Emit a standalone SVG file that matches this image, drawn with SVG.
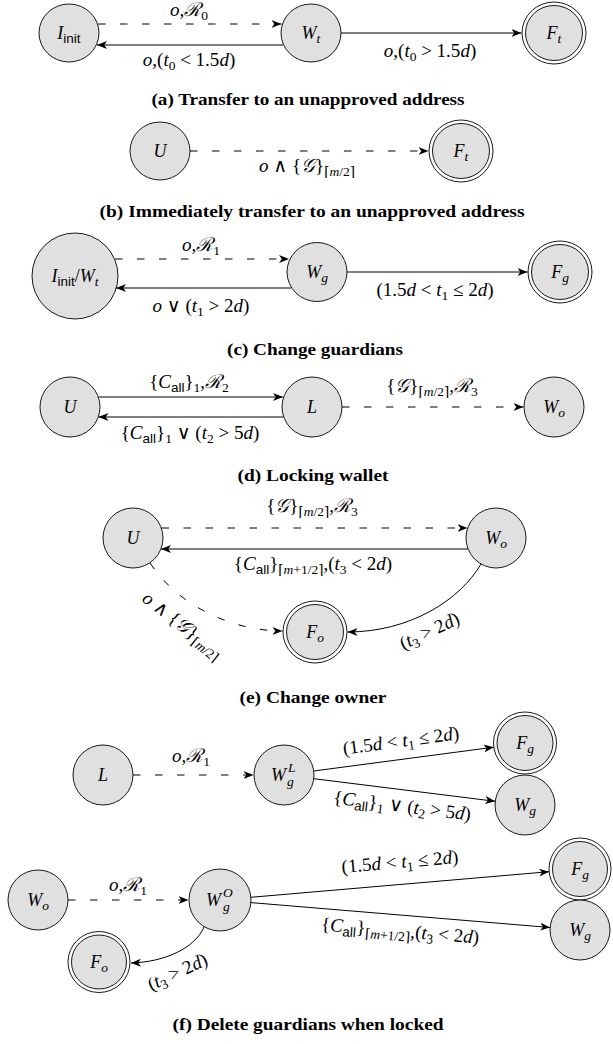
<svg xmlns="http://www.w3.org/2000/svg" width="613" height="1044" viewBox="0 0 613 1044">
<defs>
<style>
.nd{fill:#e0e0e0;stroke:#000;stroke-width:0.9}
.ao{fill:#fff;stroke:#000;stroke-width:0.9}
.e{fill:none;stroke:#000;stroke-width:1;marker-end:url(#ah)}
.d{stroke-dasharray:7.5 14.5}
.m{font-family:"Liberation Serif","DejaVu Serif",serif;font-size:18px;font-style:italic;fill:#000}
.l{font-size:19px}
.c{text-anchor:middle}
.u{font-style:normal}
.s{font-size:13.5px}
.sf{font-family:"Liberation Sans","DejaVu Sans",sans-serif;font-style:normal}
.cap{font-family:"Liberation Serif","DejaVu Serif",serif;font-weight:bold;font-size:16px;text-anchor:middle;fill:#000}
</style>
<marker id="ah" viewBox="0 0 10 8" refX="10" refY="4" markerWidth="10" markerHeight="8" markerUnits="userSpaceOnUse" orient="auto">
<path d="M0,0 L10,4 L0,8 L2.8,4 Z" fill="#000"/>
</marker>
</defs>
<rect width="613" height="1044" fill="#fff"/>

<!-- (a) -->
<g id="a-Iinit"><ellipse class="nd" cx="69" cy="33" rx="30" ry="29"/><text class="m c" x="69" y="39">I<tspan class="sf s" dy="4">init</tspan></text></g>
<g id="a-Wt"><ellipse class="nd" cx="311" cy="33" rx="30" ry="29"/><text class="m c" x="311" y="39">W<tspan class="s" dy="4">t</tspan></text></g>
<g id="a-Ft"><ellipse class="ao" cx="554" cy="33" rx="32" ry="31"/><ellipse class="nd" cx="554" cy="33" rx="28.5" ry="27.5"/><text class="m c" x="554" y="39">F<tspan class="s" dy="4">t</tspan></text></g>

<!-- (b) -->
<g id="b-U"><ellipse class="nd" cx="160" cy="151" rx="30" ry="29"/><text class="m c" x="160" y="157">U</text></g>
<g id="b-Ft"><ellipse class="ao" cx="461" cy="151" rx="32" ry="31"/><ellipse class="nd" cx="461" cy="151" rx="28.5" ry="27.5"/><text class="m c" x="461" y="157">F<tspan class="s" dy="4">t</tspan></text></g>

<!-- (c) -->
<g id="c-IW"><circle class="nd" cx="75" cy="276" r="43"/><text class="m c" x="75" y="282">I<tspan class="sf s" dy="4">init</tspan><tspan class="u" dy="-4">/</tspan>W<tspan class="s" dy="4">t</tspan></text></g>
<g id="c-Wg"><ellipse class="nd" cx="317" cy="272" rx="30" ry="29.5"/><text class="m c" x="317" y="278">W<tspan class="s" dy="4">g</tspan></text></g>
<g id="c-Fg"><ellipse class="ao" cx="560" cy="272" rx="32" ry="31"/><ellipse class="nd" cx="560" cy="272" rx="28.5" ry="27.5"/><text class="m c" x="560" y="278">F<tspan class="s" dy="4">g</tspan></text></g>

<!-- (d) -->
<g id="d-U"><ellipse class="nd" cx="70" cy="407" rx="30" ry="30"/><text class="m c" x="70" y="413">U</text></g>
<g id="d-L"><ellipse class="nd" cx="312" cy="407" rx="30" ry="30"/><text class="m c" x="312" y="413">L</text></g>
<g id="d-Wo"><ellipse class="nd" cx="554" cy="407" rx="30" ry="30"/><text class="m c" x="554" y="413">W<tspan class="s" dy="4">o</tspan></text></g>

<!-- (e) -->
<g id="e-U"><ellipse class="nd" cx="133" cy="538" rx="30" ry="30"/><text class="m c" x="133" y="544">U</text></g>
<g id="e-Wo"><ellipse class="nd" cx="496" cy="538" rx="30" ry="30"/><text class="m c" x="496" y="544">W<tspan class="s" dy="4">o</tspan></text></g>
<g id="e-Fo"><ellipse class="ao" cx="315" cy="632" rx="32" ry="31"/><ellipse class="nd" cx="315" cy="632" rx="28.5" ry="27.5"/><text class="m c" x="315" y="638">F<tspan class="s" dy="4">o</tspan></text></g>

<!-- (f) upper -->
<g id="f1-L"><ellipse class="nd" cx="103" cy="775" rx="30" ry="30"/><text class="m c" x="103" y="781">L</text></g>
<g id="f1-WgL"><ellipse class="nd" cx="284" cy="775" rx="30" ry="30"/><text class="m" x="271" y="781">W</text><text class="m s" x="288" y="772">L</text><text class="m s" x="287" y="786">g</text></g>
<g id="f1-Fg"><ellipse class="ao" cx="525" cy="743" rx="31.5" ry="31"/><ellipse class="nd" cx="525" cy="743" rx="28" ry="27.5"/><text class="m c" x="525" y="749">F<tspan class="s" dy="4">g</tspan></text></g>
<g id="f1-Wg"><ellipse class="nd" cx="525" cy="805" rx="30" ry="30"/><text class="m c" x="525" y="811">W<tspan class="s" dy="4">g</tspan></text></g>

<!-- (f) lower -->
<g id="f2-Wo"><ellipse class="nd" cx="38" cy="900" rx="30" ry="30"/><text class="m c" x="38" y="906">W<tspan class="s" dy="4">o</tspan></text></g>
<g id="f2-WgO"><ellipse class="nd" cx="220" cy="900" rx="31" ry="31"/><text class="m" x="206" y="906">W</text><text class="m s" x="223" y="897">O</text><text class="m s" x="223" y="911">g</text></g>
<g id="f2-Fg"><ellipse class="ao" cx="580" cy="869" rx="31" ry="31"/><ellipse class="nd" cx="580" cy="869" rx="27.5" ry="27.5"/><text class="m c" x="580" y="875">F<tspan class="s" dy="4">g</tspan></text></g>
<g id="f2-Wg"><ellipse class="nd" cx="580" cy="930" rx="30" ry="30"/><text class="m c" x="580" y="936">W<tspan class="s" dy="4">g</tspan></text></g>
<g id="f2-Fo"><ellipse class="ao" cx="99" cy="962" rx="31" ry="30.5"/><ellipse class="nd" cx="99" cy="962" rx="27.5" ry="27"/><text class="m c" x="99" y="968">F<tspan class="s" dy="4">o</tspan></text></g>

<g id="connectors">
<!-- a -->
<path class="e d" d="M98,24 H281.5"/>
<path class="e" d="M283,45 H97"/>
<path class="e" d="M341,33 H521.5"/>
<!-- b -->
<path class="e d" d="M190,151 H428.5"/>
<!-- c -->
<path class="e d" d="M115,259 H289"/>
<path class="e" d="M291,288 H116"/>
<path class="e" d="M347,272 H527.5"/>
<!-- d -->
<path class="e" d="M98.5,397 H283"/>
<path class="e" d="M283.5,417 H98.5"/>
<path class="e d" d="M342,407 H523.5"/>
<!-- e -->
<path class="e d" d="M161.5,528 H467.5"/>
<path class="e" d="M468,549 H161"/>
<path class="e d" d="M150,563 C180,608 235,631 282.5,631"/>
<path class="e" d="M481,564 C460,600 410,632 347.5,632"/>
<!-- f upper -->
<path class="e d" d="M133,775 H253.5"/>
<path class="e" d="M313.7,771 L493.8,747.2"/>
<path class="e" d="M313.8,778.7 L495.2,801.3"/>
<!-- f lower -->
<path class="e d" d="M68,900 H188.5"/>
<path class="e" d="M250.9,897.3 L549.1,871.7"/>
<path class="e" d="M250.9,902.6 L550.1,927.5"/>
<path class="e" d="M204,927 C195,948 165,962 131,963"/>
</g>

<g id="edge-labels">
<text class="m l c" x="189" y="16">o<tspan class="u">,</tspan>ℛ<tspan class="u s" dy="4">0</tspan></text>
<text class="m l c" x="189" y="66">o<tspan class="u">,(</tspan>t<tspan class="u s" dy="4">0</tspan><tspan class="u" dy="-4"> &lt; 1.5</tspan>d<tspan class="u">)</tspan></text>
<text class="m l c" x="430" y="57">o<tspan class="u">,(</tspan>t<tspan class="u s" dy="4">0</tspan><tspan class="u" dy="-4"> &gt; 1.5</tspan>d<tspan class="u">)</tspan></text>

<text class="m l c" x="307" y="172">o<tspan class="u"> ∧ {</tspan>𝒢<tspan class="u">}</tspan><tspan class="s" dy="4"><tspan class="u">⌈</tspan>m<tspan class="u">/2⌉</tspan></tspan></text>

<text class="m l c" x="201" y="251">o<tspan class="u">,</tspan>ℛ<tspan class="u s" dy="4">1</tspan></text>
<text class="m l c" x="201" y="312">o<tspan class="u"> ∨ (</tspan>t<tspan class="u s" dy="4">1</tspan><tspan class="u" dy="-4"> &gt; 2</tspan>d<tspan class="u">)</tspan></text>
<text class="m l c" x="435" y="296"><tspan class="u">(1.5</tspan>d<tspan class="u"> &lt; </tspan>t<tspan class="u s" dy="4">1</tspan><tspan class="u" dy="-4"> ≤ 2</tspan>d<tspan class="u">)</tspan></text>

<text class="m l c" x="189" y="388"><tspan class="u">{</tspan>C<tspan class="sf s" dy="4">all</tspan><tspan class="u" dy="-4">}</tspan><tspan class="u s" dy="4">1</tspan><tspan class="u" dy="-4">,</tspan>ℛ<tspan class="u s" dy="4">2</tspan></text>
<text class="m l c" x="190" y="439"><tspan class="u">{</tspan>C<tspan class="sf s" dy="4">all</tspan><tspan class="u" dy="-4">}</tspan><tspan class="u s" dy="4">1</tspan><tspan class="u" dy="-4"> ∨ (</tspan>t<tspan class="u s" dy="4">2</tspan><tspan class="u" dy="-4"> &gt; 5</tspan>d<tspan class="u">)</tspan></text>
<text class="m l c" x="432" y="392"><tspan class="u">{</tspan>𝒢<tspan class="u">}</tspan><tspan class="s" dy="4"><tspan class="u">⌈</tspan>m<tspan class="u">/2⌉</tspan></tspan><tspan class="u" dy="-4">,</tspan>ℛ<tspan class="u s" dy="4">3</tspan></text>

<text class="m l c" x="312" y="512"><tspan class="u">{</tspan>𝒢<tspan class="u">}</tspan><tspan class="s" dy="4"><tspan class="u">⌈</tspan>m<tspan class="u">/2⌉</tspan></tspan><tspan class="u" dy="-4">,</tspan>ℛ<tspan class="u s" dy="4">3</tspan></text>
<text class="m l c" x="313" y="570"><tspan class="u">{</tspan>C<tspan class="sf s" dy="4">all</tspan><tspan class="u" dy="-4">}</tspan><tspan class="s" dy="4"><tspan class="u">⌈</tspan>m<tspan class="u">+1/2⌉</tspan></tspan><tspan class="u" dy="-4">,(</tspan>t<tspan class="u s" dy="4">3</tspan><tspan class="u" dy="-4"> &lt; 2</tspan>d<tspan class="u">)</tspan></text>
<g transform="translate(182,626) rotate(38)"><text class="m l c" x="0" y="5">o<tspan class="u"> ∧ {</tspan>𝒢<tspan class="u">}</tspan><tspan class="s" dy="4"><tspan class="u">⌈</tspan>m<tspan class="u">/2⌉</tspan></tspan></text></g>
<g transform="translate(430,632) rotate(-25)"><text class="m l c" x="0" y="5"><tspan class="u">(</tspan>t<tspan class="u s" dy="4">3</tspan><tspan class="u" dy="-4"> &gt; 2</tspan>d<tspan class="u">)</tspan></text></g>

<text class="m l c" x="191" y="762">o<tspan class="u">,</tspan>ℛ<tspan class="u s" dy="4">1</tspan></text>
<g transform="translate(401,742) rotate(-7.6)"><text class="m l c" x="0" y="5"><tspan class="u">(1.5</tspan>d<tspan class="u"> &lt; </tspan>t<tspan class="u s" dy="4">1</tspan><tspan class="u" dy="-4"> ≤ 2</tspan>d<tspan class="u">)</tspan></text></g>
<g transform="translate(402,807) rotate(7.1)"><text class="m l c" x="0" y="5"><tspan class="u">{</tspan>C<tspan class="sf s" dy="4">all</tspan><tspan class="u" dy="-4">}</tspan><tspan class="u s" dy="4">1</tspan><tspan class="u" dy="-4"> ∨ (</tspan>t<tspan class="u s" dy="4">2</tspan><tspan class="u" dy="-4"> &gt; 5</tspan>d<tspan class="u">)</tspan></text></g>

<text class="m l c" x="128" y="891">o<tspan class="u">,</tspan>ℛ<tspan class="u s" dy="4">1</tspan></text>
<g transform="translate(400,863) rotate(-4.9)"><text class="m l c" x="0" y="5"><tspan class="u">(1.5</tspan>d<tspan class="u"> &lt; </tspan>t<tspan class="u s" dy="4">1</tspan><tspan class="u" dy="-4"> ≤ 2</tspan>d<tspan class="u">)</tspan></text></g>
<g transform="translate(400,932) rotate(4.8)"><text class="m l c" x="0" y="5"><tspan class="u">{</tspan>C<tspan class="sf s" dy="4">all</tspan><tspan class="u" dy="-4">}</tspan><tspan class="s" dy="4"><tspan class="u">⌈</tspan>m<tspan class="u">+1/2⌉</tspan></tspan><tspan class="u" dy="-4">,(</tspan>t<tspan class="u s" dy="4">3</tspan><tspan class="u" dy="-4"> &lt; 2</tspan>d<tspan class="u">)</tspan></text></g>
<g transform="translate(178,973) rotate(-25)"><text class="m l c" x="0" y="5"><tspan class="u">(</tspan>t<tspan class="u s" dy="4">3</tspan><tspan class="u" dy="-4"> &gt; 2</tspan>d<tspan class="u">)</tspan></text></g>
</g>

<g id="captions">
<text class="cap" x="308" y="105" textLength="313" lengthAdjust="spacingAndGlyphs">(a) Transfer to an unapproved address</text>
<text class="cap" x="312" y="217" textLength="425" lengthAdjust="spacingAndGlyphs">(b) Immediately transfer to an unapproved address</text>
<text class="cap" x="315" y="355" textLength="176" lengthAdjust="spacingAndGlyphs">(c) Change guardians</text>
<text class="cap" x="313" y="481" textLength="151" lengthAdjust="spacingAndGlyphs">(d) Locking wallet</text>
<text class="cap" x="313" y="703" textLength="147" lengthAdjust="spacingAndGlyphs">(e) Change owner</text>
<text class="cap" x="308" y="1030" textLength="271" lengthAdjust="spacingAndGlyphs">(f) Delete guardians when locked</text>
</g>
</svg>
